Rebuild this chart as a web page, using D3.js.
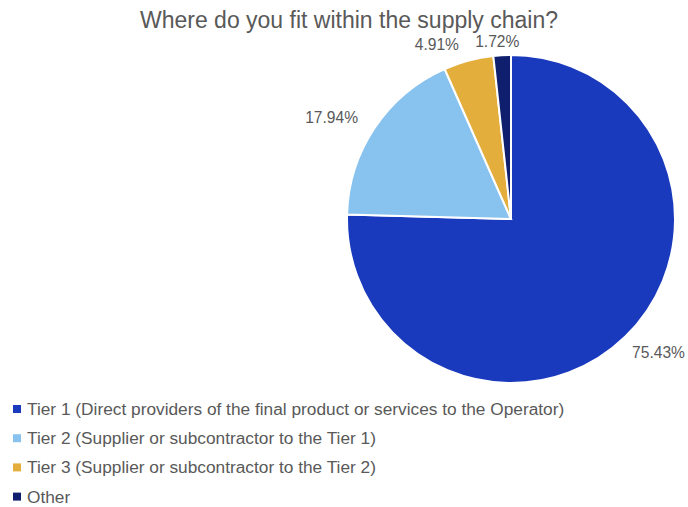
<!DOCTYPE html>
<html>
<head>
<meta charset="utf-8">
<script src="https://cdn.jsdelivr.net/npm/d3@7"></script>
<style>
  html, body { margin: 0; padding: 0; background: #fff; }
  svg { display: block; font-family: "Liberation Sans", Arial, sans-serif; }
</style>
</head>
<body>
<svg id="chart" width="688" height="507"></svg>
<script>
// Survey responses: position within the supply chain
const categories = [
  "Tier 1 (Direct providers of the final product or services to the Operator)",
  "Tier 2 (Supplier or subcontractor to the Tier 1)",
  "Tier 3 (Supplier or subcontractor to the Tier 2)",
  "Other"
];
const values = [75.43, 17.94, 4.91, 1.72];
const colors = ["#1a3abd", "#88c2ef", "#e3ae3b", "#0f1f6e"];
const title = "Where do you fit within the supply chain?";

const svg = d3.select("#chart");
const cx = 511, cy = 219, r = 164;

svg.append("text")
  .attr("x", 349).attr("y", 28)
  .attr("text-anchor", "middle")
  .attr("font-size", 23)
  .attr("fill", "#595959")
  .text(title);

const pie = d3.pie().sort(null).value(d => d.v);
const arcs = pie(values.map((v, i) => ({ v, i })));
const arc = d3.arc().innerRadius(0).outerRadius(r);

const g = svg.append("g").attr("transform", `translate(${cx},${cy})`);
g.selectAll("path").data(arcs).join("path")
  .attr("d", arc)
  .attr("fill", d => colors[d.data.i])
  .attr("stroke", "#fff")
  .attr("stroke-width", 2);

// Percentage labels placed just outside each slice
const labelOffsets = [
  { r: 200, dx: 8, dy: -10 },
  { r: 204, dx: -10, dy: 12 },
  { r: 182, dx: -27, dy: 1 },
  { r: 181, dx: -4, dy: 3 }
];
g.selectAll("text.lbl").data(arcs).join("text")
  .attr("class", "lbl")
  .each(function(d) {
    const o = labelOffsets[d.data.i];
    const a = (d.startAngle + d.endAngle) / 2;
    const x = Math.sin(a) * o.r + o.dx;
    const y = -Math.cos(a) * o.r + o.dy;
    d3.select(this).attr("x", x).attr("y", y);
  })
  .attr("text-anchor", "middle")
  .attr("dominant-baseline", "central")
  .attr("font-size", 15.6)
  .attr("fill", "#595959")
  .text(d => d.data.v.toFixed(2) + "%");

// Legend
const legend = svg.append("g").attr("transform", "translate(13,409)");
const rows = legend.selectAll("g").data(categories).join("g")
  .attr("transform", (d, i) => `translate(0,${i * 29.2})`);
rows.append("rect")
  .attr("x", 0).attr("y", -4).attr("width", 8).attr("height", 8)
  .attr("fill", (d, i) => colors[i]);
rows.append("text")
  .attr("x", 14).attr("y", 0)
  .attr("dominant-baseline", "central")
  .attr("font-size", 17.3)
  .attr("fill", "#595959")
  .text(d => d);
</script>
</body>
</html>
